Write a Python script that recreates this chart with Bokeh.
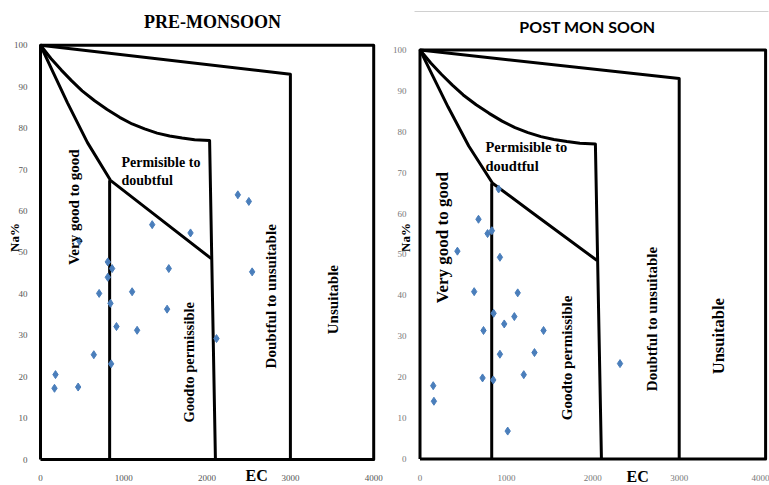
import math
from bokeh.plotting import figure
from bokeh.layouts import row
from bokeh.models import Range1d, FixedTicker, Label, Title
from bokeh.embed import file_html
from bokeh.resources import INLINE

# ---- data ----
pre_ec = [168, 180, 452, 468, 640, 704, 808, 808, 840, 848, 860, 912, 1100, 1160,
          1341, 1520, 1540, 1801, 2113, 2369, 2501, 2541]
pre_na = [17.2, 20.5, 17.5, 52.7, 25.3, 40.1, 47.7, 44.0, 37.7, 23.1, 46.1, 32.1, 40.5, 31.2,
          56.7, 36.3, 46.1, 54.7, 29.2, 63.9, 62.3, 45.3]

post_ec = [910, 677, 782, 832, 433, 925, 627, 1131, 852, 1092, 975, 735, 1430, 925,
           1325, 1201, 724, 848, 2315, 153, 161, 1015]
post_na = [66.0, 58.6, 55.1, 55.8, 50.8, 49.3, 40.9, 40.6, 35.6, 34.8, 33.0, 31.4, 31.4, 25.6,
           26.0, 20.6, 19.8, 19.3, 23.3, 17.9, 14.1, 6.8]

# Wilcox diagram boundaries
frame_x = [0, 0, 4000, 4000, 0]
frame_y = [0, 100, 100, 0, 0]
unsuit_x = [0, 3000, 3000]
unsuit_y = [100, 93, 0]
doubt_x = [0, 125, 250, 375, 500, 650, 800, 950, 1100, 1250, 1400, 1550, 1700, 1850, 2030, 2100]
doubt_y = [100, 96.8, 94, 91.4, 89, 86.6, 84.5, 82.6, 81, 79.8, 78.8, 78.1, 77.6, 77.2, 77, 0]
good_x = [0, 156, 324, 564, 840, 1300, 2050]
good_y = [100, 93.3, 86.1, 76.5, 67.4, 60.2, 48.5]
vgood_x = [830, 830]
vgood_y = [67.4, 0]

x_ticks = [0, 1000, 2000, 3000, 4000]
y_ticks = [0, 10, 20, 30, 40, 50, 60, 70, 80, 90, 100]

SERIF = "Liberation Serif"


def make_panel(width, x0px, xs, y0px, ys, L, R, T, B, ec, na, tick_color):
    # xs: px per data unit, x0px: px of x=0 (relative to figure); same for y
    x_start = (L - x0px) / xs
    x_end = (R - x0px) / xs
    y_end = (y0px - T) / ys
    y_start = (y0px - B) / ys
    p = figure(width=width, height=485, output_backend="svg", toolbar_location=None,
               title=None,
               x_range=Range1d(x_start, x_end), y_range=Range1d(y_start, y_end),
               min_border_left=L, min_border_right=width - R,
               min_border_top=T, min_border_bottom=485 - B)
    p.outline_line_color = None
    p.grid.visible = False
    p.background_fill_color = "white"
    p.border_fill_color = "white"
    for ax in (p.xaxis[0], p.yaxis[0]):
        ax.axis_line_color = None
        ax.major_tick_line_color = None
        ax.minor_tick_line_color = None
        ax.major_label_text_font = SERIF
        ax.major_label_text_font_size = "9px"
        ax.major_label_text_color = tick_color
        ax.major_label_standoff = 2
        ax.axis_label_text_font = SERIF
        ax.axis_label_text_font_style = "bold"
        ax.axis_label_text_color = "black"
    p.xaxis.ticker = FixedTicker(ticks=x_ticks)
    p.yaxis.ticker = FixedTicker(ticks=y_ticks)

    for bx, by in ((frame_x, frame_y), (unsuit_x, unsuit_y), (doubt_x, doubt_y),
                   (good_x, good_y), (vgood_x, vgood_y)):
        p.line(bx, by, line_color="black", line_width=3, line_join="round")
    p.scatter(ec, na, marker="diamond", size=8, fill_color="#4A7EBB",
              line_color="#4A7EBB")
    return p


def lab(p, x, y, text, size, angle=0.0, align="center", baseline="middle",
        font=SERIF, color="black"):
    p.add_layout(Label(x=x, y=y, text=text, text_font=font, text_font_size=size,
                       text_font_style="bold", text_color=color, angle=angle,
                       text_align=align, text_baseline=baseline))


def ec_title(p, offset, standoff):
    p.add_layout(Title(text="EC", align="left", offset=offset, vertical_align="top",
                       standoff=standoff, text_font=SERIF, text_font_size="16px",
                       text_font_style="bold", text_color="black"), "below")


V = math.pi / 2

# ---- left panel: pre-monsoon ----
p1 = make_panel(385, 40, 0.0833, 459, 4.17, 35, 380, 5, 466, pre_ec, pre_na, "#555555")
p1.yaxis.axis_label = "Na%"
p1.yaxis.axis_label_text_font_size = "13px"
p1.yaxis.axis_label_standoff = -11
ec_title(p1, 210, -34)
lab(p1, 2065, 105.5, "PRE-MONSOON", "18px")
lab(p1, 408, 60.9, "Very good to good", "15px", angle=V)
lab(p1, 972, 73.6, "Permisible to\ndoubtful", "14px", align="left", baseline="top")
lab(p1, 1777, 23.5, "Goodto permissible", "14.5px", angle=V)
lab(p1, 2773, 39.4, "Doubtful to unsuitable", "15px", angle=V)
lab(p1, 3517, 38.6, "Unsuitable", "15px", angle=V)

# ---- right panel: post-monsoon ----
p2 = make_panel(384, 34.5, 0.0864, 464.3, 4.143, 29, 383, 8, 472, post_ec, post_na, "#777777")
p2.yaxis.axis_label = "Na%"
p2.yaxis.axis_label_text_font_size = "13px"
p2.yaxis.axis_label_standoff = -23
ec_title(p2, 212, -32)
p2.line([-200, 4200], [109.4, 109.4], line_color="#d0d0d0", line_width=1)
lab(p2, 1939, 105.8, "POST MON SOON", "16px", font="Lato")
lab(p2, 257, 54.1, "Very good to good", "17px", angle=V)
lab(p2, 758, 78.3, "Permisible to\ndoudtful", "14.5px", align="left", baseline="top")
lab(p2, 1704, 24.7, "Goodto permissible", "15px", angle=V)
lab(p2, 2688, 34.2, "Doubtful to unsuitable", "15px", angle=V)
lab(p2, 3458, 30.0, "Unsuitable", "16.5px", angle=V)

layout = row(p1, p2)
open("out.html", "w").write(file_html(layout, INLINE))
